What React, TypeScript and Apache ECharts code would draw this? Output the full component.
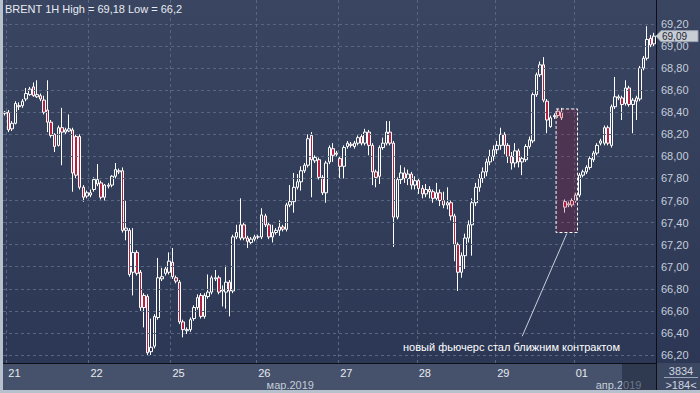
import React, { useEffect, useRef } from 'react';
import * as echarts from 'echarts';

// [open, close, low, high] — hourly BRENT candles
const bars: number[][] = [
  [68.40, 68.39, 68.37, 68.41], [68.40, 68.24, 68.22, 68.42], [68.25, 68.30, 68.23, 68.32], [68.30, 68.48, 68.29, 68.50],
  [68.46, 68.45, 68.42, 68.49], [68.46, 68.50, 68.44, 68.52], [68.52, 68.57, 68.50, 68.62], [68.56, 68.61, 68.55, 68.63],
  [68.63, 68.55, 68.54, 68.67], [68.54, 68.56, 68.53, 68.69], [68.55, 68.52, 68.50, 68.57], [68.51, 68.40, 68.38, 68.55],
  [68.42, 68.31, 68.22, 68.69], [68.31, 68.19, 68.17, 68.33], [68.20, 68.09, 68.04, 68.21], [68.10, 68.26, 68.09, 68.28],
  [68.26, 68.22, 67.92, 68.44], [68.22, 68.24, 68.20, 68.26], [68.23, 68.25, 68.22, 68.38], [68.24, 67.85, 67.68, 68.26],
  [68.18, 67.83, 67.80, 68.20], [68.18, 67.72, 67.70, 68.20], [67.72, 67.63, 67.59, 67.74], [67.64, 67.67, 67.62, 67.69],
  [67.65, 67.67, 67.63, 67.70], [67.70, 67.79, 67.68, 67.81], [67.75, 67.79, 67.73, 67.93], [67.76, 67.63, 67.61, 67.78],
  [67.63, 67.74, 67.60, 67.75], [67.74, 67.73, 67.71, 67.76], [67.74, 67.82, 67.72, 67.83], [67.82, 67.88, 67.80, 67.94],
  [67.86, 67.87, 67.84, 67.89], [67.87, 67.33, 67.31, 67.90], [67.33, 67.35, 67.24, 67.60], [67.33, 66.93, 66.91, 67.35],
  [66.95, 67.13, 66.74, 67.35], [67.13, 66.94, 66.92, 67.15], [66.95, 66.63, 66.60, 66.97], [66.74, 66.63, 66.45, 66.76],
  [66.73, 66.22, 66.20, 66.75], [66.23, 66.27, 66.20, 66.53], [66.28, 66.55, 66.26, 66.57], [66.54, 66.90, 66.52, 67.08],
  [66.89, 66.91, 66.87, 66.99], [66.94, 66.98, 66.92, 67.00], [66.95, 67.05, 66.93, 67.13], [67.04, 66.91, 66.89, 67.17],
  [66.90, 66.87, 66.85, 66.92], [66.86, 66.50, 66.48, 66.88], [66.50, 66.43, 66.36, 66.52], [66.42, 66.43, 66.39, 66.45],
  [66.43, 66.52, 66.41, 66.54], [66.53, 66.63, 66.51, 66.65], [66.63, 66.72, 66.61, 66.75], [66.74, 66.55, 66.53, 66.76],
  [66.55, 66.74, 66.53, 66.76], [66.73, 66.77, 66.71, 66.93], [66.77, 66.90, 66.75, 66.92], [66.89, 66.90, 66.87, 66.97],
  [66.90, 66.77, 66.75, 66.92], [66.78, 66.79, 66.64, 66.83], [66.77, 66.86, 66.62, 67.01], [66.86, 66.78, 66.55, 66.88],
  [66.78, 67.27, 66.76, 67.29], [67.27, 67.31, 67.25, 67.38], [67.26, 67.38, 67.24, 67.62], [67.38, 67.26, 67.24, 67.40],
  [67.26, 67.23, 67.17, 67.28], [67.22, 67.25, 67.20, 67.27], [67.25, 67.27, 67.23, 67.29], [67.27, 67.27, 67.25, 67.29],
  [67.27, 67.47, 67.25, 67.53], [67.46, 67.38, 67.36, 67.48], [67.38, 67.27, 67.25, 67.40], [67.27, 67.31, 67.22, 67.38],
  [67.31, 67.33, 67.29, 67.35], [67.33, 67.36, 67.28, 67.42], [67.36, 67.34, 67.32, 67.38], [67.34, 67.56, 67.32, 67.58],
  [67.56, 67.59, 67.54, 67.74], [67.59, 67.72, 67.49, 67.85], [67.72, 67.77, 67.70, 67.84], [67.77, 67.87, 67.69, 67.91],
  [67.87, 67.92, 67.85, 67.94], [67.92, 68.16, 67.90, 68.20], [68.19, 67.97, 67.63, 68.22], [67.96, 67.99, 67.94, 68.01],
  [67.97, 67.81, 67.79, 67.99], [67.81, 67.67, 67.65, 67.83], [67.67, 67.94, 67.58, 67.96], [67.95, 68.08, 67.93, 68.10],
  [68.07, 68.01, 67.95, 68.12], [68.02, 68.03, 68.00, 68.05], [67.98, 67.91, 67.80, 68.00], [67.91, 68.08, 67.80, 68.10],
  [68.09, 68.12, 68.07, 68.14], [68.11, 68.10, 68.08, 68.13], [68.09, 68.12, 68.07, 68.14], [68.12, 68.17, 68.10, 68.19],
  [68.18, 68.12, 68.10, 68.20], [68.12, 68.22, 68.10, 68.25], [68.22, 68.10, 68.01, 68.24], [68.10, 67.86, 67.74, 68.12],
  [67.86, 67.81, 67.72, 67.88], [67.82, 68.08, 67.75, 68.10], [68.08, 68.12, 68.06, 68.17], [68.12, 68.22, 68.10, 68.32],
  [68.22, 68.12, 68.10, 68.32], [68.12, 67.45, 67.18, 68.14], [67.45, 67.79, 67.43, 67.81], [67.79, 67.85, 67.75, 67.92],
  [67.85, 67.80, 67.76, 67.90], [67.80, 67.84, 67.74, 67.88], [67.84, 67.74, 67.70, 67.86], [67.74, 67.78, 67.70, 67.82],
  [67.78, 67.71, 67.66, 67.80], [67.71, 67.66, 67.62, 67.74], [67.66, 67.70, 67.63, 67.75], [67.70, 67.68, 67.62, 67.73],
  [67.68, 67.62, 67.58, 67.70], [67.62, 67.67, 67.60, 67.76], [67.67, 67.60, 67.55, 67.70], [67.60, 67.56, 67.53, 67.68],
  [67.56, 67.58, 67.52, 67.72], [67.58, 67.46, 67.42, 67.60], [67.46, 67.20, 67.05, 67.48], [67.20, 66.95, 66.78, 67.22],
  [66.95, 67.10, 66.90, 67.13], [67.10, 67.26, 66.98, 67.30], [67.26, 67.38, 67.22, 67.42], [67.38, 67.58, 67.10, 67.62],
  [67.58, 67.72, 67.55, 67.76], [67.72, 67.80, 67.68, 67.84], [67.80, 67.86, 67.76, 67.90], [67.86, 67.95, 67.82, 67.98],
  [67.95, 68.00, 67.92, 68.06], [68.00, 68.06, 67.96, 68.10], [68.06, 68.10, 68.02, 68.14], [68.10, 68.20, 68.06, 68.26],
  [68.20, 68.10, 68.02, 68.22], [68.10, 68.00, 67.94, 68.12], [68.00, 67.94, 67.88, 68.04], [67.94, 68.05, 67.90, 68.12],
  [68.05, 67.95, 67.90, 68.07], [67.95, 67.98, 67.83, 68.00], [67.97, 68.09, 67.95, 68.11], [68.09, 68.15, 68.07, 68.18],
  [68.14, 68.56, 68.12, 68.58], [68.56, 68.74, 68.54, 68.76], [68.74, 68.83, 68.72, 68.86], [68.83, 68.51, 68.49, 68.90],
  [68.50, 68.33, 68.21, 68.52], [68.27, 68.35, 68.26, 68.37], [68.36, 68.37, 68.34, 68.39], [68.41, 68.37, 68.35, 68.43],
  [68.40, 68.35, 68.33, 68.44], [67.59, 67.54, 67.49, 67.61], [67.56, 67.57, 67.54, 67.59], [67.60, 67.56, 67.54, 67.62],
  [67.60, 67.65, 67.58, 67.67], [67.65, 67.83, 67.63, 67.85], [67.83, 67.86, 67.81, 67.88], [67.86, 67.90, 67.84, 67.92],
  [67.90, 67.98, 67.88, 68.00], [67.97, 68.03, 67.95, 68.05], [68.03, 68.10, 68.01, 68.12], [68.12, 68.14, 68.10, 68.16],
  [68.12, 68.26, 68.10, 68.28], [68.26, 68.12, 68.10, 68.28], [68.10, 68.45, 68.08, 68.47], [68.45, 68.54, 68.43, 68.72],
  [68.53, 68.54, 68.51, 68.56], [68.53, 68.47, 68.33, 68.55], [68.48, 68.62, 68.46, 68.69], [68.62, 68.47, 68.45, 68.64],
  [68.47, 68.51, 68.21, 68.53], [68.50, 68.53, 68.33, 68.55], [68.52, 68.80, 68.50, 68.82], [68.80, 68.89, 68.78, 68.91],
  [68.89, 69.06, 68.87, 69.18], [69.07, 69.01, 68.99, 69.10], [69.02, 69.09, 69.00, 69.12],
];

const dayStarts = [1, 24, 47, 71, 94, 116, 138, 160];
const dayLabels = ['21', '22', '25', '26', '27', '28', '29', '01'];
const monthAt = [80, 172];
const monthLabels = ['мар.2019', 'апр.2019'];
const gridValues = [66.2, 66.4, 66.6, 66.8, 67.0, 67.2, 67.4, 67.6, 67.8, 68.0, 68.2, 68.4, 68.6, 68.8, 69.0, 69.2];

const instrument = 'BRENT';
const timeframe = '1H';
const rollFromIndex = 155;
const rollToIndex = 160;
const rollLow = 67.31;
const rollHigh = 68.43;
const noteText = 'новый фьючерс стал ближним контрактом';
const noteLineEnd = [145, 66.37];
const noteTextAt = [142, 66.27];
const footerTop = '3834';
const footerBottom = '>184<';

const NARROW = "'Liberation Sans Narrow', 'Arial Narrow', 'Liberation Sans', sans-serif";
const SANS = "'Liberation Sans', Arial, sans-serif";

export default function App() {
  const ref = useRef<HTMLDivElement>(null);

  useEffect(() => {
    document.body.style.margin = '0';
    const chart = echarts.init(ref.current as HTMLDivElement, undefined, { renderer: 'svg' });
    const cats = bars.map((_, i) => String(i));
    const dayMap = new Map<number, string>(dayStarts.map((d, i) => [d, dayLabels[i]]));
    const monthMap = new Map<number, string>(monthAt.map((d, i) => [d, monthLabels[i]]));
    const fmt2 = (v: number) => v.toFixed(2).replace('.', ',');
    const fmtShort = (v: number) => String(+v.toFixed(2)).replace('.', ',');

    chart.setOption({
      animation: false,
      grid: { left: 3, right: 44, top: 0, bottom: 15.93 },
      xAxis: [
        {
          type: 'category', data: cats, boundaryGap: true, position: 'bottom',
          axisLine: { show: false }, axisTick: { show: false }, axisLabel: { show: false },
          splitLine: { show: true, interval: (i: number) => dayMap.has(i), lineStyle: { color: '#5a6680', type: [3, 3], width: 1 } },
        },
        {
          type: 'category', data: cats, boundaryGap: true, position: 'bottom', offset: -14, z: 200,
          axisLine: { show: true, lineStyle: { color: '#0c1016', width: 1 } },
          axisTick: { show: false }, splitLine: { show: false },
          axisLabel: {
            interval: (i: number) => dayMap.has(i),
            formatter: (_v: string, i: number) => dayMap.get(i) ?? '',
            align: 'left', color: '#e6eaf0', fontSize: 11, fontFamily: NARROW, margin: 4,
          },
        },
        {
          type: 'category', data: cats, boundaryGap: true, position: 'bottom', offset: -14, z: 200,
          axisLine: { show: false }, axisTick: { show: false }, splitLine: { show: false },
          axisLabel: {
            interval: (i: number) => monthMap.has(i),
            formatter: (_v: string, i: number) => monthMap.get(i) ?? '',
            align: 'center', color: '#c4ccd8', fontSize: 11, fontFamily: NARROW, margin: 16,
          },
        },
      ],
      yAxis: {
        type: 'value', position: 'right', min: 66.0, max: 69.4175, interval: 0.2,
        axisLine: { show: false }, axisTick: { show: false }, splitLine: { show: false },
        axisLabel: {
          formatter: (v: number) => (v < 66.1 || v > 69.3 ? '' : fmt2(v)),
          color: '#c6cedb', fontSize: 11, fontFamily: NARROW, margin: 5,
        },
      },
      series: [
        {
          type: 'candlestick', data: bars, barWidth: 3,
          itemStyle: { color: 'rgba(0,0,0,0)', color0: '#b3213f', borderColor: '#ffffff', borderColor0: '#ffffff', borderWidth: 1 },
          markLine: {
            silent: true, symbol: 'none', label: { show: false },
            lineStyle: { color: '#5a6680', type: [3, 3], width: 1 },
            data: gridValues.map((v) => ({ yAxis: v })),
          },
        },
      ],
    });

    const px = (idx: number, price: number) => chart.convertToPixel({ seriesIndex: 0 }, [idx, price]) as number[];
    const bw = 653 / bars.length;
    const maxHigh = Math.max(...bars.map((b) => b[3]));
    const minLow = Math.min(...bars.map((b) => b[2]));
    const last = bars[bars.length - 1][1];
    const tagY = px(bars.length - 1, last)[1];
    const boxTL = px(rollFromIndex, rollHigh);
    const boxBR = px(rollToIndex, rollLow);
    const boxX = boxTL[0] - bw / 2;
    const boxW = boxBR[0] + bw / 2 - boxX;
    const lineEnd = px(noteLineEnd[0], noteLineEnd[1]);
    const noteAt = px(noteTextAt[0], noteTextAt[1]);

    chart.setOption({
      graphic: [
        { type: 'rect', z: 100, shape: { x: 3, y: 363, width: 653, height: 27 }, style: { fill: '#46526b' } },
        { type: 'rect', z: 100, shape: { x: 657, y: 363, width: 43, height: 27 }, style: { fill: '#3c4862' } },
        { type: 'rect', z: 300, shape: { x: 622, y: 364, width: 34, height: 26 }, style: { fill: 'rgba(24,32,52,0.5)' } },
        { type: 'line', z: 250, shape: { x1: 656.5, y1: 0, x2: 656.5, y2: 390 }, style: { stroke: '#0c1016', lineWidth: 1 } },
        { type: 'rect', z: 300, shape: { x: 0, y: 0, width: 3, height: 393 }, style: { fill: '#b7c1cd' } },
        { type: 'rect', z: 300, shape: { x: 0, y: 390, width: 700, height: 3 }, style: { fill: '#b7c1cd' } },
        {
          type: 'text', z: 300, x: 5, y: 3,
          style: { text: `${instrument} ${timeframe} High = ${fmtShort(maxHigh)} Low = ${fmtShort(minLow)}`, fill: '#e8ecf2', font: `11px ${NARROW}` },
        },
        {
          type: 'rect', z: 150,
          shape: { x: boxX, y: boxTL[1], width: boxW, height: boxBR[1] - boxTL[1] },
          style: { fill: 'rgba(150,20,50,0.25)', stroke: '#ffffff', lineWidth: 1, lineDash: [3, 2] },
        },
        {
          type: 'line', z: 150,
          shape: { x1: boxX + boxW / 2, y1: boxBR[1] + 1, x2: lineEnd[0], y2: lineEnd[1] },
          style: { stroke: '#c9cfdb', lineWidth: 1 },
        },
        {
          type: 'text', z: 150, x: noteAt[0], y: noteAt[1],
          style: { text: noteText, fill: '#ffffff', font: `11px ${SANS}`, textAlign: 'center', textVerticalAlign: 'middle' },
        },
        {
          type: 'polygon', z: 300,
          shape: { points: [[656, tagY], [661, tagY - 5.5], [698, tagY - 5.5], [698, tagY + 5.5], [661, tagY + 5.5]] },
          style: { fill: '#c9cdd4', stroke: '#9aa3b3', lineWidth: 1 },
        },
        {
          type: 'text', z: 310, x: 662, y: tagY,
          style: { text: fmt2(last), fill: '#1e2636', font: `10px ${NARROW}`, textVerticalAlign: 'middle' },
        },
        {
          type: 'text', z: 300, x: 681, y: 371,
          style: { text: footerTop, fill: '#d0d6e0', font: `11px ${NARROW}`, textAlign: 'center', textVerticalAlign: 'middle' },
        },
        { type: 'line', z: 300, shape: { x1: 664, y1: 377.5, x2: 698, y2: 377.5 }, style: { stroke: '#9aa4b6', lineWidth: 1 } },
        {
          type: 'text', z: 300, x: 681, y: 384.5,
          style: { text: footerBottom, fill: '#d0d6e0', font: `11px ${NARROW}`, textAlign: 'center', textVerticalAlign: 'middle' },
        },
      ],
    });

    return () => chart.dispose();
  }, []);

  return (
    <div
      ref={ref}
      style={{
        position: 'fixed', left: 0, top: 0, width: 700, height: 393,
        background: 'linear-gradient(to bottom, #3a4561, #2b3654)',
      }}
    />
  );
}
